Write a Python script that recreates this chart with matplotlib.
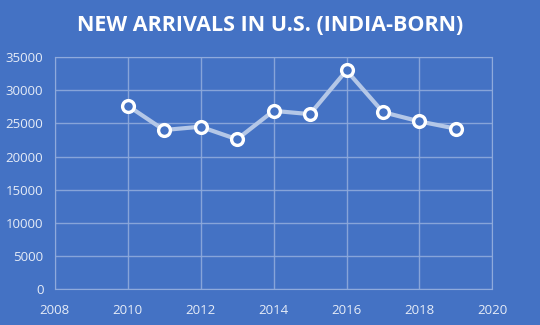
import matplotlib
matplotlib.use("Agg")
import matplotlib.pyplot as plt

years = [2010, 2011, 2012, 2013, 2014, 2015, 2016, 2017, 2018, 2019]
arrivals = [27700, 24000, 24500, 22600, 26900, 26400, 33000, 26700, 25300, 24200]
xticks = [2008, 2010, 2012, 2014, 2016, 2018, 2020]
yticks = [0, 5000, 10000, 15000, 20000, 25000, 30000, 35000]
title = "NEW ARRIVALS IN U.S. (INDIA-BORN)"

bg = "#4472C4"
fig = plt.figure(figsize=(5.4, 3.25), dpi=100, facecolor=bg)
ax = fig.add_axes([0.101, 0.111, 0.811, 0.713], facecolor=bg)

ax.plot(years, arrivals, color="#B4C7E7", lw=3, solid_capstyle="round", zorder=3)
ax.plot(years, arrivals, ls="none", marker="o", ms=8.5, mfc=bg, mec="white", mew=2.4, zorder=4)

ax.set_xlim(2008, 2020)
ax.set_ylim(0, 35000)
ax.set_xticks(xticks)
ax.set_yticks(yticks)
ax.grid(True, color="#8FAADC", lw=1, alpha=0.9)
ax.set_axisbelow(True)
for s in ax.spines.values():
    s.set_color("#8FAADC")
ax.tick_params(length=0, colors="#E6ECF7", labelsize=9.5)
ax.tick_params(axis="x", pad=11)
ax.tick_params(axis="y", pad=8)
for lab in ax.get_xticklabels() + ax.get_yticklabels():
    lab.set_fontfamily("Open Sans")

fig.text(0.5, 0.923, title, ha="center", va="center", color="white",
         fontsize=15.5, fontweight="bold", family="Open Sans")

fig.savefig("out.png", dpi=100, facecolor=bg)
